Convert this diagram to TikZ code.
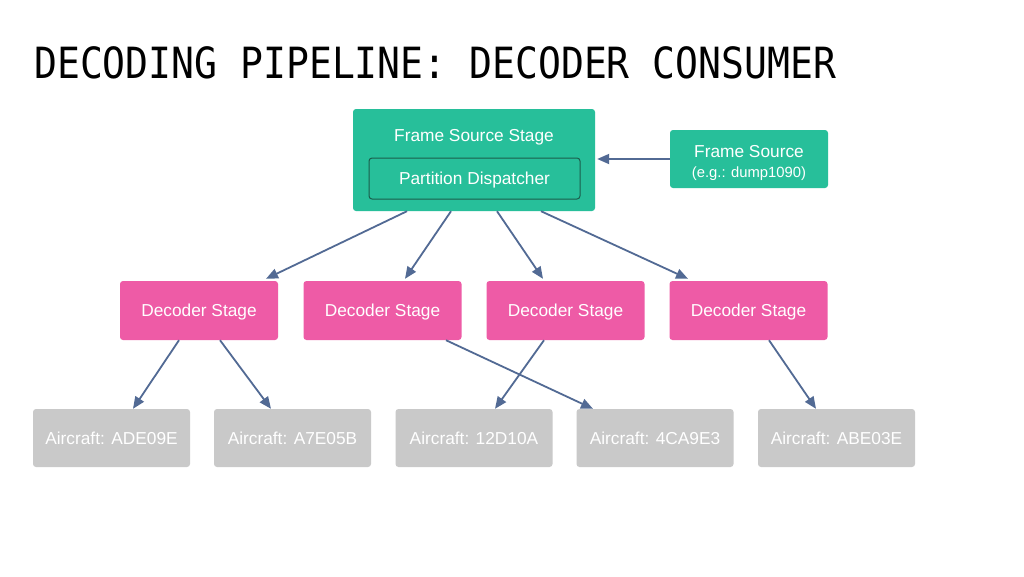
\documentclass[tikz,border=0pt]{standalone}
\usepackage{fontspec}
\setmainfont{Liberation Sans}
\newfontfamily\titlefont[FakeStretch=0.885]{DejaVu Sans Mono}
\usetikzlibrary{arrows.meta}
\definecolor{stagegreen}{HTML}{27BF9A}
\definecolor{darkgreen}{HTML}{1B5E4C}
\definecolor{decpink}{HTML}{EE5BA6}
\definecolor{acgrey}{HTML}{C9C9C9}
\definecolor{arrowblue}{HTML}{526A94}
\tikzset{
  box/.style={rounded corners=3pt, inner sep=0pt, text=white, font=\fontsize{17.3}{20}\selectfont},
  oneline/.style={text height=12.4pt, text depth=0pt},
  greenbox/.style={box, fill=stagegreen},
  decbox/.style={box, oneline, fill=decpink, minimum width=158pt, minimum height=59pt},
  acbox/.style={box, oneline, fill=acgrey, minimum width=157pt, minimum height=58pt},
  arr/.style={draw=arrowblue, line width=1.8pt, -{Triangle[length=12pt,width=10pt]}}
}
\begin{document}
\begin{tikzpicture}[x=1pt,y=-1pt]
\fill[white] (0,0) rectangle (1024,576);
\useasboundingbox (0,0) rectangle (1024,576);
\node[anchor=base west, inner sep=0pt, font=\titlefont\fontsize{43}{50}\selectfont] (title) at (34,78) {DECODING PIPELINE: DECODER CONSUMER};

\node[greenbox, minimum width=242pt, minimum height=102pt] (fss) at (474,160) {};
\node[inner sep=0pt, oneline, text=white, font=\fontsize{17.3}{20}\selectfont] (fsslabel) at (474,135) {Frame Source Stage};
\node[box, oneline, fill=stagegreen, draw=darkgreen, line width=1pt, minimum width=211pt, minimum height=41pt] (pd) at (474.5,178.5) {Partition Dispatcher};

\node[greenbox, minimum width=158pt, minimum height=58pt] (fs) at (749,159) {};
\node[inner sep=0pt, oneline, text=white, font=\fontsize{17.3}{20}\selectfont] (fsl1) at (749,151) {Frame Source};
\node[inner sep=0pt, text height=10.6pt, text depth=0pt, text=white, font=\fontsize{14.8}{17}\selectfont] (fsl2) at (749,172) {(e.g.: dump1090)};

\node[decbox] (d1) at (199,310.5) {Decoder Stage};
\node[decbox] (d2) at (382.5,310.5) {Decoder Stage};
\node[decbox] (d3) at (565.5,310.5) {Decoder Stage};
\node[decbox] (d4) at (748.5,310.5) {Decoder Stage};

\node[acbox] (a1) at (111.5,438) {Aircraft: ADE09E};
\node[acbox] (a2) at (292.5,438) {Aircraft: A7E05B};
\node[acbox] (a3) at (474,438) {Aircraft: 12D10A};
\node[acbox] (a4) at (655,438) {Aircraft: 4CA9E3};
\node[acbox] (a5) at (836.5,438) {Aircraft: ABE03E};

\draw[arr, shorten >=2pt] (fs.west) -- (fs.west -| fss.east);

\draw[arr] ([xshift=-67pt]fss.south) -- ([xshift=67pt,yshift=2pt]d1.north);
\draw[arr] ([xshift=-23pt]fss.south) -- ([xshift=22.5pt,yshift=2pt]d2.north);
\draw[arr] ([xshift=23pt]fss.south) -- ([xshift=-22.5pt,yshift=2pt]d3.north);
\draw[arr] ([xshift=67pt]fss.south) -- ([xshift=-60.5pt,yshift=2pt]d4.north);

\draw[arr] ([xshift=-20pt]d1.south) -- ([xshift=21.5pt]a1.north);
\draw[arr] ([xshift=21pt]d1.south) -- ([xshift=-21.5pt]a2.north);
\draw[arr] ([xshift=63.5pt]d2.south) -- ([xshift=-62pt]a4.north);
\draw[arr] ([xshift=-21.5pt]d3.south) -- ([xshift=21pt]a3.north);
\draw[arr] ([xshift=20.5pt]d4.south) -- ([xshift=-20.5pt]a5.north);
\end{tikzpicture}
\end{document}
